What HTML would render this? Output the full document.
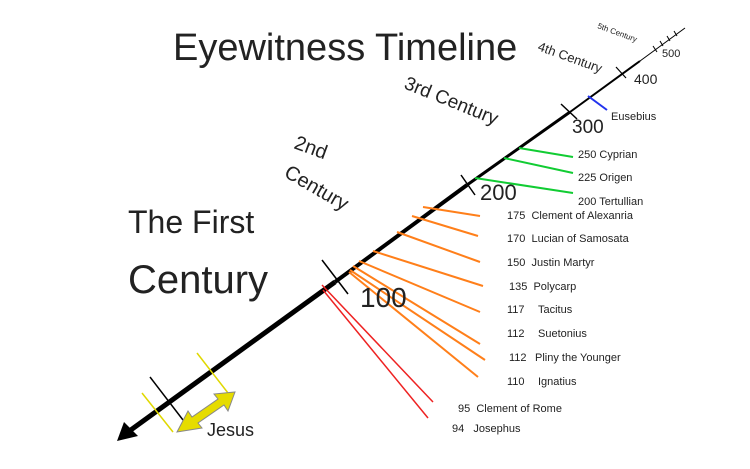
<!DOCTYPE html>
<html><head><style>
html,body{margin:0;padding:0;background:#fff}
svg{display:block}
text{font-family:"Liberation Sans",sans-serif;fill:#222}
.s{font-size:11px}
</style></head><body>
<svg width="750" height="469" viewBox="0 0 750 469" xmlns="http://www.w3.org/2000/svg">
<rect width="750" height="469" fill="#fff"/>
<!-- main line -->
<line x1="128" y1="432" x2="335" y2="282" stroke="#000" stroke-width="5"/>
<line x1="335" y1="282" x2="467" y2="185" stroke="#000" stroke-width="4"/>
<line x1="467" y1="185" x2="570" y2="112" stroke="#000" stroke-width="3"/>
<line x1="570" y1="112" x2="640" y2="61" stroke="#000" stroke-width="2"/>
<line x1="640" y1="61" x2="685" y2="28" stroke="#000" stroke-width="1"/>
<polygon points="117,441 124,422 138,436" fill="#000"/>
<!-- ticks -->
<line x1="322" y1="260" x2="348" y2="294" stroke="#000" stroke-width="1.5"/>
<line x1="461" y1="175" x2="475" y2="195" stroke="#000" stroke-width="1.5"/>
<line x1="561" y1="104" x2="577" y2="119" stroke="#000" stroke-width="1.5"/>
<line x1="616" y1="67" x2="626" y2="78" stroke="#000" stroke-width="1.2"/>
<line x1="653" y1="46" x2="657" y2="52" stroke="#000" stroke-width="1"/>
<line x1="660" y1="41" x2="663" y2="46" stroke="#000" stroke-width="1"/>
<line x1="667" y1="36" x2="670" y2="41" stroke="#000" stroke-width="1"/>
<line x1="674" y1="31" x2="677" y2="36" stroke="#000" stroke-width="1"/>
<!-- Eusebius -->
<line x1="588" y1="96" x2="607" y2="110" stroke="#2233ee" stroke-width="2"/>
<!-- green -->
<g stroke="#11cc33" stroke-width="2">
<line x1="519" y1="148" x2="573" y2="157"/>
<line x1="504" y1="158" x2="573" y2="173"/>
<line x1="475" y1="178" x2="573" y2="193"/>
</g>
<!-- orange -->
<g stroke="#ff7f1a" stroke-width="2">
<line x1="423" y1="207" x2="480" y2="216"/>
<line x1="412" y1="216" x2="478" y2="236"/>
<line x1="397" y1="232" x2="480" y2="262"/>
<line x1="373" y1="251" x2="483" y2="286"/>
<line x1="359" y1="261" x2="480" y2="312"/>
<line x1="353" y1="266" x2="480" y2="344"/>
<line x1="350" y1="270" x2="485" y2="360"/>
<line x1="349" y1="272" x2="478" y2="377"/>
</g>
<!-- red -->
<g stroke="#ee2222" stroke-width="1.5">
<line x1="322" y1="285" x2="433" y2="402"/>
<line x1="323" y1="290" x2="428" y2="418"/>
</g>
<!-- Jesus -->
<line x1="197" y1="353" x2="228" y2="393" stroke="#e0d800" stroke-width="1.5"/>
<line x1="142" y1="393" x2="173" y2="432" stroke="#e0d800" stroke-width="1.5"/>
<line x1="150" y1="377" x2="183" y2="420" stroke="#000" stroke-width="1.5"/>
<polygon points="177,432 188,411 192,417 218,399 214,394 235,392 228,411 224,405 198,423 202,428" fill="#e6dc00" stroke="#888" stroke-width="1"/>
<text x="207" y="436" font-size="18">Jesus</text>
<!-- headings -->
<text x="173" y="60" font-size="38">Eyewitness Timeline</text>
<text x="128" y="233" font-size="32">The First</text>
<text x="128" y="293" font-size="40">Century</text>
<text x="293" y="148" font-size="20" transform="rotate(20 293 148)">2nd</text>
<text x="283" y="176" font-size="20" transform="rotate(30 283 176)">Century</text>
<text x="403" y="88" font-size="19" transform="rotate(22 403 88)">3rd Century</text>
<text x="537" y="50" font-size="13" transform="rotate(20 537 50)">4th Century</text>
<text x="597" y="28" font-size="8" transform="rotate(20 597 28)">5th Century</text>
<!-- numbers -->
<text x="360" y="307" font-size="28">100</text>
<text x="480" y="200" font-size="22">200</text>
<text x="572" y="133" font-size="19">300</text>
<text x="634" y="84" font-size="14">400</text>
<text x="662" y="57" font-size="11">500</text>
<!-- labels -->
<text class="s" x="611" y="120">Eusebius</text>
<text class="s" x="578" y="158">250 Cyprian</text>
<text class="s" x="578" y="181">225 Origen</text>
<text class="s" x="578" y="205">200 Tertullian</text>
<text class="s" x="507" y="219">175 &#160;Clement of Alexanria</text>
<text class="s" x="507" y="242">170 &#160;Lucian of Samosata</text>
<text class="s" x="507" y="266">150 &#160;Justin Martyr</text>
<text class="s" x="509" y="290">135 &#160;Polycarp</text>
<text class="s" x="507" y="313">117</text><text class="s" x="538" y="313">Tacitus</text>
<text class="s" x="507" y="337">112</text><text class="s" x="538" y="337">Suetonius</text>
<text class="s" x="509" y="361">112</text><text class="s" x="535" y="361">Pliny the Younger</text>
<text class="s" x="507" y="385">110</text><text class="s" x="538" y="385">Ignatius</text>
<text class="s" x="458" y="412">95 &#160;Clement of Rome</text>
<text class="s" x="452" y="432">94 &#160;&#160;Josephus</text>
</svg>
</body></html>
